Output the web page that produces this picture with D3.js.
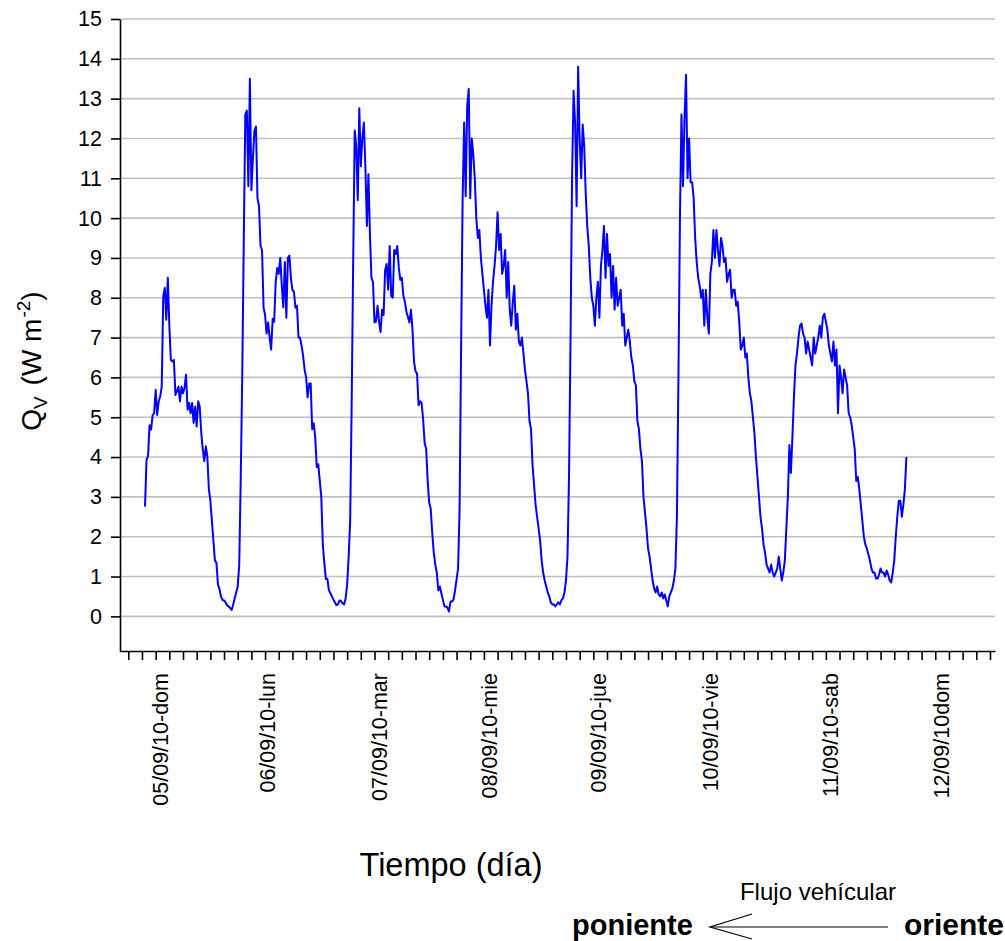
<!DOCTYPE html>
<html>
<head>
<meta charset="utf-8">
<script src="https://cdnjs.cloudflare.com/ajax/libs/d3/7.8.5/d3.min.js"></script>
<style>
  body { margin: 0; background: #fff; }
  svg { display: block; font-family: "Liberation Sans", Arial, sans-serif; }
</style>
</head>
<body>
<svg id="chart" width="1005" height="941"></svg>
<script>
// Q_V readings every 20 minutes, one array per day (first one starts mid-day)
var qv05dom = [2.76, 3.93, 4.03, 4.8, 4.69, 5.05, 5.1, 5.69, 5.06, 5.4, 5.52, 5.77, 8.03, 8.25, 7.45, 8.5, 7.3,
  6.44, 6.4, 6.44, 5.56, 5.65, 5.77, 5.4, 5.77, 5.6, 5.74, 6.07, 5.19, 5.36, 5.1, 5.36, 4.86, 5.27, 4.77, 5.4,
  5.27, 4.61, 4.2, 3.9, 4.27, 4.02, 3.2];
var qv06lun = [2.9, 2.4, 1.9, 1.4, 1.35, 0.8, 0.68, 0.5, 0.41, 0.4, 0.35, 0.28, 0.25, 0.21, 0.16, 0.29,
  0.45, 0.6, 0.75, 1.3, 3.5, 6.1, 9.5, 12.6, 12.7, 10.8, 13.5, 10.7, 11.5, 12.2, 12.3, 10.5, 10.3, 9.3, 9.2,
  7.76, 7.57, 7.1, 7.38, 7.0, 6.7, 7.47, 7.4, 8.4, 8.75, 8.6, 9.0, 8.3, 7.76, 8.9, 7.5, 9.0, 9.06, 8.5, 8.2,
  8.15, 7.75, 7.8, 7.0, 7.0, 6.8, 6.55, 6.2, 6.0, 5.5, 5.84, 5.85, 4.7, 4.85, 4.5, 3.75, 3.82];
var qv07mar = [3.4, 3.0, 1.8, 1.33, 0.94, 0.94, 0.66, 0.58, 0.5, 0.42, 0.35, 0.28, 0.3, 0.4, 0.38, 0.33,
  0.3, 0.45, 0.8, 1.5, 2.4, 5.4, 9.0, 12.2, 11.8, 10.45, 12.76, 11.3, 12.0, 12.4, 11.3, 9.8, 11.1, 9.6, 8.5,
  8.4, 7.38, 7.4, 7.8, 7.4, 7.14, 7.7, 7.57, 8.7, 8.85, 8.2, 9.3, 8.05, 8.0, 9.2, 9.1, 9.3, 8.75, 8.45, 8.5,
  8.05, 7.9, 7.65, 7.52, 7.38, 7.7, 7.2, 6.4, 6.15, 6.1, 5.3, 5.4, 5.36, 4.95, 4.35, 4.2, 3.4];
var qv08mie = [2.85, 2.7, 2.1, 1.6, 1.3, 1.1, 0.65, 0.75, 0.58, 0.42, 0.25, 0.25, 0.22, 0.12, 0.37, 0.37,
  0.42, 0.65, 0.92, 1.2, 2.7, 6.8, 10.5, 12.4, 10.55, 12.8, 13.24, 10.5, 12.0, 11.6, 11.0, 10.0, 9.5, 9.7,
  9.0, 8.6, 8.2, 7.8, 7.5, 8.2, 6.8, 7.8, 8.4, 8.8, 9.3, 10.15, 9.2, 9.6, 8.6, 8.8, 9.2, 8.0, 8.9, 7.7, 7.3,
  7.9, 8.3, 7.2, 7.6, 6.9, 6.8, 7.0, 6.6, 6.2, 5.9, 5.6, 4.9, 4.7, 3.8, 3.3, 2.8, 2.5];
var qv09jue = [2.2, 1.9, 1.4, 1.1, 0.9, 0.75, 0.6, 0.5, 0.35, 0.3, 0.3, 0.25, 0.3, 0.35, 0.3, 0.4, 0.45,
  0.6, 0.9, 1.5, 3.5, 7.0, 11.0, 13.2, 12.4, 10.3, 13.8, 12.0, 11.0, 12.35, 11.8, 10.6, 9.8, 9.3, 8.5, 8.0,
  7.8, 7.3, 8.0, 8.4, 7.5, 8.8, 9.2, 9.8, 8.5, 9.6, 8.8, 9.1, 8.0, 8.8, 7.7, 8.5, 7.8, 8.0, 8.2, 7.3, 7.6,
  6.8, 7.0, 7.2, 6.9, 6.5, 6.3, 5.9, 5.8, 4.9, 4.7, 4.2, 3.9, 3.0, 2.6, 2.2];
var qv10vie = [1.7, 1.5, 1.2, 0.9, 0.7, 0.6, 0.75, 0.55, 0.5, 0.6, 0.45, 0.55, 0.4, 0.25, 0.5, 0.6, 0.7,
  0.9, 1.2, 2.5, 6.0, 10.0, 12.6, 10.8, 12.5, 13.6, 11.0, 12.0, 10.9, 10.9, 10.5, 9.5, 8.9, 8.5, 8.3, 8.0,
  8.2, 7.3, 8.2, 7.5, 7.1, 8.6, 8.9, 9.7, 9.0, 9.7, 9.2, 8.8, 9.5, 9.3, 8.9, 9.0, 8.4, 8.6, 8.7, 8.0, 8.2,
  8.2, 7.8, 7.9, 7.4, 6.7, 6.8, 7.0, 6.5, 6.6, 6.0, 5.6, 5.4, 5.0, 4.6, 4.0];
var qv11sab = [3.5, 3.0, 2.5, 2.2, 1.8, 1.6, 1.3, 1.2, 1.1, 1.3, 1.1, 1.0, 1.1, 1.2, 1.5, 1.2, 0.9, 1.1,
  1.4, 2.2, 3.0, 4.3, 3.6, 4.5, 5.5, 6.3, 6.6, 7.0, 7.3, 7.35, 7.1, 7.0, 6.6, 6.9, 6.7, 6.5, 6.3, 7.0, 6.6,
  6.8, 7.0, 7.3, 7.0, 7.5, 7.6, 7.4, 7.2, 6.8, 6.6, 6.4, 6.9, 6.3, 6.7, 5.1, 6.3, 6.0, 5.6, 6.2, 6.0, 5.8,
  5.1, 5.0, 4.8, 4.5, 4.2, 3.4, 3.5, 3.2, 2.8, 2.4, 2.0, 1.8];
var qv12dom = [1.7, 1.55, 1.4, 1.2, 1.1, 1.1, 0.95, 0.95, 1.05, 1.2, 1.1, 1.1, 1.0, 1.15, 1.05, 0.9, 0.85,
  1.1, 1.4, 2.0, 2.5, 2.9, 2.9, 2.5, 2.8, 3.2, 4.0];

// hours are counted from 05/09/10 06:00; first reading is 05/09 15:40
var days = [qv05dom, qv06lun, qv07mar, qv08mie, qv09jue, qv10vie, qv11sab, qv12dom];
var firstSlot = 29;          // slot (20 min) of the first reading on day 1
var dayLabels = ["05/09/10-dom", "06/09/10-lun", "07/09/10-mar", "08/09/10-mie",
                 "09/09/10-jue", "10/09/10-vie", "11/09/10-sab", "12/09/10dom"];
var dayLabelHours = [7, 30.6, 55.1, 79.2, 103.2, 127.6, 154.1, 178.4];
var yTicks = d3.range(0, 16);
var xTicks = d3.range(0, 190, 3);  // every 3 h

// flatten into [hour, value]
var series = [];
days.forEach(function(arr, k) {
  var start = k === 0 ? firstSlot : 0;
  arr.forEach(function(v, i) {
    series.push([-6 + 24 * k + (start + i) / 3, v]);
  });
});

// plot box (note: "top" is reserved on window, so use a margin object)
var box = {left: 120, right: 995, top: 19, bottom: 651};

var x = d3.scaleLinear().domain([-1.82, 190.1]).range([box.left, box.right]);
var y = d3.scaleLinear().domain([-0.87, 15]).range([box.bottom, box.top]);

var svg = d3.select("#chart");

// horizontal grid
svg.append("g")
  .selectAll("line")
  .data(yTicks)
  .enter().append("line")
    .attr("x1", box.left).attr("x2", box.right)
    .attr("y1", function(d) { return y(d); })
    .attr("y2", function(d) { return y(d); })
    .attr("stroke", "#c0c0c0")
    .attr("stroke-width", 1.6);

// the data line
var line = d3.line()
  .x(function(d) { return x(d[0]); })
  .y(function(d) { return y(d[1]); });

svg.append("path")
  .datum(series)
  .attr("fill", "none")
  .attr("stroke", "#0000ff")
  .attr("stroke-width", 2)
  .attr("stroke-linejoin", "round")
  .attr("d", line);

// y axis
var yAxis = svg.append("g")
  .attr("transform", "translate(" + box.left + ",0)")
  .call(d3.axisLeft(y).tickValues(yTicks).tickSize(9).tickSizeOuter(0).tickPadding(9));
yAxis.attr("font-family", null);
yAxis.selectAll("text")
  .attr("font-size", 21.5)
  .attr("fill", "#000");
yAxis.selectAll("line, path").attr("stroke", "#000").attr("stroke-width", 1.6);

// x axis with 3-hour ticks
var xAxis = svg.append("g")
  .attr("transform", "translate(0," + box.bottom + ")")
  .call(d3.axisBottom(x).tickValues(xTicks).tickFormat("").tickSize(9).tickSizeOuter(0));
xAxis.selectAll("line, path").attr("stroke", "#000").attr("stroke-width", 1.6);

// day labels, rotated
svg.append("g")
  .selectAll("text")
  .data(dayLabels)
  .enter().append("text")
    .attr("transform", function(d, i) {
      return "translate(" + x(dayLabelHours[i]) + ",673) rotate(-90)";
    })
    .attr("text-anchor", "end")
    .attr("dy", "0.35em")
    .attr("font-size", 21.5)
    .text(function(d) { return d; });

// axis titles
svg.append("text")
  .attr("x", 451).attr("y", 876)
  .attr("text-anchor", "middle")
  .attr("font-size", 32.5)
  .text("Tiempo (día)");

var yTitle = svg.append("text")
  .attr("transform", "translate(41,361) rotate(-90)")
  .attr("text-anchor", "middle")
  .attr("font-size", 28);
yTitle.append("tspan").text("Q");
yTitle.append("tspan").attr("font-size", 19).attr("dy", 6).text("V");
yTitle.append("tspan").attr("dy", -6).attr("dx", 3).text(" (W m");
yTitle.append("tspan").attr("font-size", 19).attr("dy", -11).attr("dx", 1).text("-2");
yTitle.append("tspan").attr("dy", 11).text(")");

// traffic direction note
svg.append("text")
  .attr("x", 818).attr("y", 900)
  .attr("text-anchor", "middle")
  .attr("font-size", 24)
  .text("Flujo vehícular");

svg.append("text")
  .attr("x", 572).attr("y", 935)
  .attr("font-size", 29).attr("font-weight", "bold")
  .text("poniente");

svg.append("text")
  .attr("x", 1004).attr("y", 935)
  .attr("text-anchor", "end")
  .attr("font-size", 30).attr("font-weight", "bold")
  .text("oriente");

// arrow pointing west
var arrow = svg.append("g").attr("stroke", "#000").attr("stroke-width", 1.2).attr("fill", "none");
arrow.append("line").attr("x1", 888).attr("y1", 927).attr("x2", 710).attr("y2", 927);
arrow.append("polyline").attr("points", "752,914 710,927 752,939");
</script>
</body>
</html>
